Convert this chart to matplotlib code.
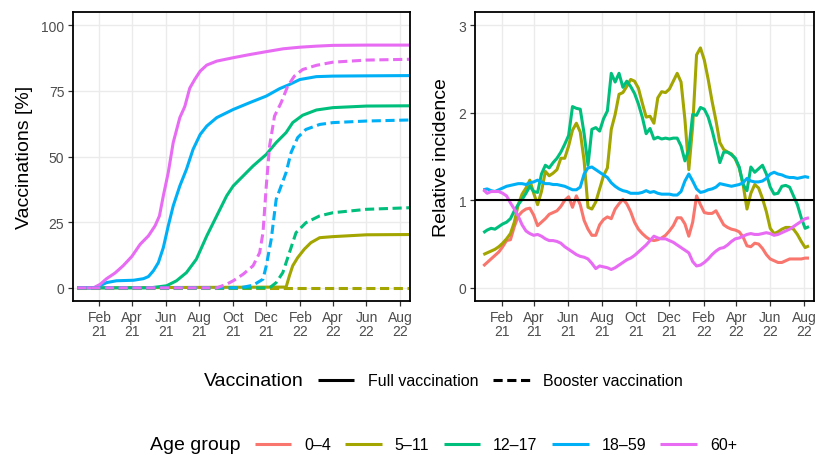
import matplotlib
matplotlib.use('Agg')
import matplotlib.pyplot as plt
import pandas as pd
from matplotlib.lines import Line2D

plt.rcParams['font.family'] = ['Liberation Sans', 'DejaVu Sans']

# ---------------- data ----------------
age_groups = ['0–4', '5–11', '12–17', '18–59', '60+']
colors = ['#F8766D', '#A3A500', '#00BF7D', '#00B0F6', '#E76BF3']

# Left panel: cumulative vaccinations [%]
full_5_11_dates = ['2020-12-23', '2022-01-06', '2022-01-12', '2022-01-18', '2022-01-27',
                   '2022-02-08', '2022-02-20', '2022-03-08', '2022-04-01', '2022-06-01', '2022-08-18']
full_5_11 = [0, 0.3, 4.6, 8.4, 11.5, 14.7, 17.2, 19.1, 19.5, 20.2, 20.3]

full_12_17_dates = ['2020-12-23', '2021-05-04', '2021-06-03', '2021-06-21', '2021-07-09', '2021-07-27',
                    '2021-08-15', '2021-09-02', '2021-09-20', '2021-10-02', '2021-10-20', '2021-11-07',
                    '2021-12-01', '2021-12-19', '2022-01-06', '2022-01-18', '2022-02-05', '2022-03-02',
                    '2022-04-01', '2022-06-01', '2022-08-18']
full_12_17 = [0, 0, 0.8, 2.7, 5.8, 10.9, 19.8, 27.4, 35, 38.8, 42.6, 46.4, 50.8, 55.3, 59.1,
              62.9, 65.7, 67.7, 68.6, 69.2, 69.3]

full_18_59_dates = ['2020-12-23', '2021-01-27', '2021-02-02', '2021-02-14', '2021-03-04', '2021-04-04',
                    '2021-04-22', '2021-05-01', '2021-05-10', '2021-05-19', '2021-05-28', '2021-06-06',
                    '2021-06-15', '2021-06-27', '2021-07-09', '2021-07-21', '2021-08-03', '2021-08-15',
                    '2021-09-02', '2021-10-02', '2021-11-01', '2021-12-01', '2021-12-25', '2022-01-12',
                    '2022-01-31', '2022-03-02', '2022-04-01', '2022-06-01', '2022-08-18']
full_18_59 = [0, 0, 0.8, 2.0, 2.7, 2.9, 3.5, 4.3, 6.5, 9.6, 15.3, 23.6, 31.2, 38.8, 45.1, 52.7,
              58.4, 61.6, 64.8, 67.9, 70.5, 73, 75.8, 77.4, 79.3, 80.4, 80.6, 80.7, 80.8]

full_60_dates = ['2020-12-23', '2021-01-21', '2021-02-02', '2021-02-14', '2021-03-01', '2021-03-16',
                 '2021-04-01', '2021-04-16', '2021-05-01', '2021-05-13', '2021-05-21', '2021-05-28',
                 '2021-06-06', '2021-06-15', '2021-06-27', '2021-07-06', '2021-07-15', '2021-07-24',
                 '2021-08-03', '2021-08-15', '2021-09-02', '2021-10-02', '2021-11-01', '2021-12-01',
                 '2022-01-01', '2022-01-31', '2022-03-02', '2022-04-01', '2022-06-01', '2022-08-18']
full_60 = [0, 0, 1.3, 3.5, 5.6, 8.4, 12, 16.6, 19.8, 23.6, 27.4, 35, 43.9, 55.3, 64.8, 69, 76,
           79.3, 82.5, 84.8, 86.3, 87.6, 88.8, 89.9, 91, 91.6, 92, 92.3, 92.4, 92.4]

boost_5_11_dates = ['2020-12-23', '2022-08-18']
boost_5_11 = [0, 0]

boost_12_17_dates = ['2020-12-23', '2021-12-07', '2021-12-19', '2021-12-31', '2022-01-12', '2022-01-24',
                     '2022-02-11', '2022-03-08', '2022-04-01', '2022-06-01', '2022-08-18']
boost_12_17 = [0, 0, 2, 5.8, 13.4, 21, 24.8, 27.4, 28.6, 29.9, 30.5]

boost_18_59_dates = ['2020-12-23', '2021-10-14', '2021-11-07', '2021-11-25', '2021-12-01', '2021-12-10',
                     '2021-12-19', '2021-12-28', '2022-01-06', '2022-01-15', '2022-01-27', '2022-02-11',
                     '2022-03-08', '2022-04-01', '2022-06-01', '2022-08-18']
boost_18_59 = [0, 0, 1, 3.3, 8.4, 18.5, 33.7, 38.8, 43.9, 51.5, 57.2, 60.3, 62.2, 62.9, 63.5, 63.9]

boost_60_dates = ['2020-12-23', '2021-09-02', '2021-09-20', '2021-10-02', '2021-10-20', '2021-11-07',
                  '2021-11-19', '2021-11-25', '2021-12-01', '2021-12-07', '2021-12-16', '2021-12-28',
                  '2022-01-09', '2022-01-21', '2022-02-05', '2022-03-02', '2022-04-01', '2022-06-01',
                  '2022-08-18']
boost_60 = [0, 0, 1.4, 2.7, 5.2, 8.4, 13.4, 21, 38.8, 54, 65.4, 70.5, 76.8, 80.6, 83.1, 84.7,
            85.9, 86.7, 87]

# Right panel: relative incidence, weekly
inc_start = '2020-12-30'
inc_0_4 = [0.25, 0.29, 0.33, 0.37, 0.41, 0.47, 0.54, 0.55, 0.70, 0.82, 0.87, 0.90, 0.91, 0.83, 0.71,
           0.75, 0.79, 0.84, 0.86, 0.88, 0.93, 1.00, 1.04, 0.92, 1.05, 0.95, 0.77, 0.67, 0.60, 0.60,
           0.72, 0.78, 0.81, 0.79, 0.90, 0.96, 1.01, 0.96, 0.87, 0.75, 0.67, 0.62, 0.58, 0.55, 0.54,
           0.55, 0.57, 0.60, 0.65, 0.71, 0.80, 0.80, 0.73, 0.59, 0.75, 1.05, 0.95, 0.86, 0.85, 0.85,
           0.88, 0.80, 0.72, 0.69, 0.67, 0.66, 0.64, 0.58, 0.48, 0.47, 0.51, 0.50, 0.45, 0.38, 0.33,
           0.31, 0.29, 0.29, 0.31, 0.33, 0.33, 0.33, 0.33, 0.34, 0.34]
inc_5_11 = [0.38, 0.40, 0.42, 0.44, 0.47, 0.51, 0.56, 0.62, 0.75, 0.95, 1.07, 1.14, 1.23, 1.08, 0.95,
            1.10, 1.33, 1.28, 1.31, 1.35, 1.48, 1.48, 1.62, 1.80, 1.88, 1.78, 1.45, 0.92, 0.90, 0.98,
            1.13, 1.28, 1.37, 1.81, 1.98, 2.21, 2.23, 2.30, 2.38, 2.36, 2.28, 2.11, 1.95, 1.96, 1.88,
            2.17, 2.24, 2.23, 2.27, 2.36, 2.45, 2.35, 1.92, 1.35, 1.85, 2.66, 2.74, 2.60, 2.38, 2.13,
            1.91, 1.66, 1.58, 1.55, 1.53, 1.47, 1.37, 1.18, 0.90, 1.08, 1.18, 1.14, 1.02, 0.87, 0.68,
            0.62, 0.64, 0.67, 0.69, 0.69, 0.67, 0.61, 0.53, 0.46, 0.48]
inc_12_17 = [0.63, 0.66, 0.68, 0.67, 0.70, 0.73, 0.75, 0.79, 0.88, 0.95, 1.01, 1.08, 1.16, 1.10, 1.09,
             1.30, 1.40, 1.37, 1.43, 1.48, 1.55, 1.64, 1.74, 2.07, 2.05, 2.04, 1.76, 1.40, 1.81, 1.83,
             1.79, 1.93, 2.02, 2.45, 2.35, 2.45, 2.29, 2.36, 2.30, 2.22, 2.10, 1.95, 1.76, 1.82, 1.70,
             1.72, 1.70, 1.71, 1.70, 1.71, 1.71, 1.62, 1.45, 1.58, 1.98, 1.97, 2.06, 2.04, 1.95, 1.80,
             1.62, 1.43, 1.55, 1.55, 1.52, 1.48, 1.38, 1.18, 1.11, 1.38, 1.32, 1.36, 1.40, 1.30, 1.15,
             1.07, 1.08, 1.16, 1.17, 1.15, 1.05, 0.95, 0.80, 0.68, 0.70]
inc_18_59 = [1.12, 1.13, 1.11, 1.10, 1.12, 1.14, 1.16, 1.17, 1.18, 1.19, 1.19, 1.18, 1.20, 1.21, 1.23,
             1.21, 1.19, 1.19, 1.18, 1.18, 1.17, 1.16, 1.14, 1.12, 1.12, 1.15, 1.30, 1.37, 1.38, 1.35,
             1.32, 1.29, 1.26, 1.20, 1.16, 1.13, 1.11, 1.10, 1.08, 1.08, 1.08, 1.09, 1.11, 1.09, 1.10,
             1.08, 1.07, 1.07, 1.07, 1.06, 1.06, 1.10, 1.22, 1.30, 1.22, 1.13, 1.09, 1.10, 1.12, 1.13,
             1.15, 1.19, 1.18, 1.17, 1.16, 1.17, 1.18, 1.20, 1.25, 1.22, 1.21, 1.21, 1.22, 1.25, 1.30,
             1.32, 1.30, 1.29, 1.27, 1.26, 1.26, 1.25, 1.26, 1.27, 1.26]
inc_60 = [1.12, 1.08, 1.10, 1.10, 1.10, 1.08, 1.05, 0.97, 0.90, 0.82, 0.72, 0.65, 0.62, 0.60, 0.61,
          0.59, 0.56, 0.54, 0.54, 0.53, 0.51, 0.47, 0.44, 0.41, 0.38, 0.36, 0.35, 0.33, 0.28, 0.22,
          0.25, 0.24, 0.23, 0.21, 0.23, 0.26, 0.29, 0.32, 0.34, 0.37, 0.41, 0.45, 0.49, 0.54, 0.59,
          0.57, 0.56, 0.56, 0.54, 0.52, 0.49, 0.46, 0.43, 0.40, 0.30, 0.25, 0.26, 0.29, 0.33, 0.38,
          0.42, 0.45, 0.46, 0.49, 0.53, 0.56, 0.57, 0.59, 0.61, 0.62, 0.61, 0.61, 0.62, 0.63, 0.62,
          0.60, 0.61, 0.63, 0.65, 0.67, 0.70, 0.73, 0.76, 0.79, 0.80]

tick_dates = ['2021-02-01', '2021-04-01', '2021-06-01', '2021-08-01', '2021-10-01', '2021-12-01',
              '2022-02-01', '2022-04-01', '2022-06-01', '2022-08-01']
tick_labels = ['Feb\n21', 'Apr\n21', 'Jun\n21', 'Aug\n21', 'Oct\n21', 'Dec\n21',
               'Feb\n22', 'Apr\n22', 'Jun\n22', 'Aug\n22']
x_limits = ['2020-12-15', '2022-08-19']

# ---------------- figure ----------------
W, H = 815, 456
fig = plt.figure(figsize=(W / 100, H / 100), dpi=100)
ax1 = fig.add_axes([73 / W, 1 - 302 / H, 337 / W, 289 / H])
ax2 = fig.add_axes([475 / W, 1 - 302 / H, 339 / W, 289 / H])

LW = 2.2
DASH = (3.0, 1.5)

full_sets = [(full_5_11_dates, full_5_11, 1), (full_12_17_dates, full_12_17, 2),
             (full_18_59_dates, full_18_59, 3), (full_60_dates, full_60, 4)]
boost_sets = [(boost_5_11_dates, boost_5_11, 1), (boost_12_17_dates, boost_12_17, 2),
              (boost_18_59_dates, boost_18_59, 3), (boost_60_dates, boost_60, 4)]
for d, v, ci in full_sets:
    ax1.plot(pd.to_datetime(d), v, color=colors[ci], lw=LW, solid_capstyle='butt',
             solid_joinstyle='round')
for d, v, ci in boost_sets:
    ax1.plot(pd.to_datetime(d), v, color=colors[ci], lw=LW, linestyle=(0, DASH),
             dash_capstyle='butt')

inc_dates = pd.date_range(inc_start, periods=len(inc_0_4), freq='7D')
for v, c in zip([inc_0_4, inc_5_11, inc_12_17, inc_18_59, inc_60], colors):
    ax2.plot(inc_dates, v, color=c, lw=LW, solid_capstyle='butt', solid_joinstyle='round')
ax2.axhline(1, color='black', lw=1.5, zorder=5)

ax1.set_ylim(-5, 105)
ax1.set_yticks([0, 25, 50, 75, 100])
ax2.set_ylim(-0.15, 3.15)
ax2.set_yticks([0, 1, 2, 3])
ax1.set_ylabel('Vaccinations [%]', fontsize=14, labelpad=6)
ax2.set_ylabel('Relative incidence', fontsize=14, labelpad=6)

for ax in (ax1, ax2):
    ax.set_xlim(pd.to_datetime(x_limits[0]), pd.to_datetime(x_limits[1]))
    ax.set_xticks(pd.to_datetime(tick_dates))
    ax.set_xticklabels(tick_labels, linespacing=1.0)
    ax.grid(True, color='#EBEBEB', lw=1.0)
    ax.set_axisbelow(True)
    ax.tick_params(axis='both', length=3.8, width=0.9, color='#333333',
                   labelcolor='#4D4D4D', labelsize=10, pad=2.5)
    for s in ax.spines.values():
        s.set_color('black')
        s.set_linewidth(1.3)
    ax.set_facecolor('white')

# ---------------- legends ----------------
def legend_row(title, handles, labels, y_px, center_px, gap_px, label_size,
               handlelength, textpad, colspace):
    y = 1 - y_px / H
    t = fig.text(0, y, title, fontsize=14, va='center', ha='left', color='black')
    leg = fig.legend(handles, labels, loc='center left', bbox_to_anchor=(0, y),
                     ncol=len(handles), frameon=False, fontsize=label_size,
                     handlelength=handlelength, handletextpad=textpad,
                     columnspacing=colspace, borderpad=0, borderaxespad=0)
    fig.canvas.draw()
    r = fig.canvas.get_renderer()
    wt = t.get_window_extent(r).width
    wl = leg.get_window_extent(r).width
    x0 = center_px - (wt + gap_px + wl) / 2
    t.set_x(x0 / W)
    leg.set_bbox_to_anchor(((x0 + wt + gap_px) / W, y))

vacc_handles = [Line2D([], [], color='black', lw=LW, solid_capstyle='butt'),
                Line2D([], [], color='black', lw=LW, linestyle=(0, DASH), dash_capstyle='butt')]
legend_row('Vaccination', vacc_handles, ['Full vaccination', 'Booster vaccination'],
           382, 443.5, 14, 11.5, 2.3, 0.85, 0.9)

age_handles = [Line2D([], [], color=c, lw=LW, solid_capstyle='butt') for c in colors]
legend_row('Age group', age_handles, age_groups, 446, 443.5, 14, 11.5, 2.3, 0.8, 0.9)

fig.savefig('out.png', dpi=100, facecolor='white')
